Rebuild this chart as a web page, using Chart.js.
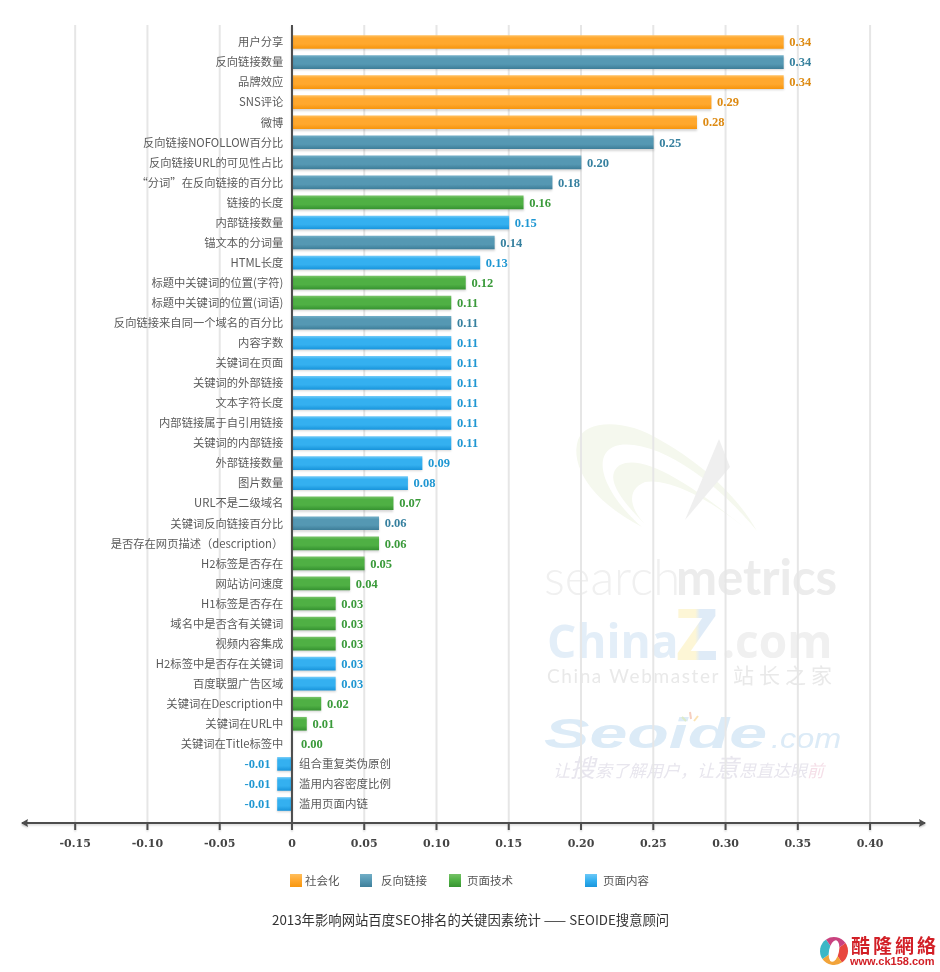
<!DOCTYPE html>
<html>
<head>
<meta charset="utf-8">
<title>2013年影响网站百度SEO排名的关键因素统计</title>
<script src="https://cdn.jsdelivr.net/npm/chart.js@4"></script>
<style>
  body { margin: 0; background: #fff; }
  canvas { display: block; }
</style>
</head>
<body>
<canvas id="factorChart" width="940" height="972"></canvas>
<script>
const categories = [
  '用户分享', '反向链接数量', '品牌效应', 'SNS评论', '微博', '反向链接NOFOLLOW百分比',
  '反向链接URL的可见性占比', '“分词”在反向链接的百分比', '链接的长度', '内部链接数量',
  '锚文本的分词量', 'HTML长度', '标题中关键词的位置(字符)', '标题中关键词的位置(词语)',
  '反向链接来自同一个域名的百分比', '内容字数', '关键词在页面', '关键词的外部链接',
  '文本字符长度', '内部链接属于自引用链接', '关键词的内部链接', '外部链接数量', '图片数量',
  'URL不是二级域名', '关键词反向链接百分比', '是否存在网页描述（description）', 'H2标签是否存在',
  '网站访问速度', 'H1标签是否存在', '域名中是否含有关键词', '视频内容集成',
  'H2标签中是否存在关键词', '百度联盟广告区域', '关键词在Description中', '关键词在URL中',
  '关键词在Title标签中', '组合重复类伪原创', '滥用内容密度比例', '滥用页面内链'
];
const values = [
  0.34, 0.34, 0.34, 0.29, 0.28, 0.25, 0.20, 0.18, 0.16, 0.15,
  0.14, 0.13, 0.12, 0.11, 0.11, 0.11, 0.11, 0.11, 0.11, 0.11,
  0.11, 0.09, 0.08, 0.07, 0.06, 0.06, 0.05, 0.04, 0.03, 0.03,
  0.03, 0.03, 0.03, 0.02, 0.01, 0.00, -0.01, -0.01, -0.01
];
// index into seriesNames for each category
const groups = [
  0, 1, 0, 0, 0, 1, 1, 1, 2, 3,
  1, 3, 2, 2, 1, 3, 3, 3, 3, 3,
  3, 3, 3, 2, 1, 2, 2, 2, 2, 2,
  2, 3, 3, 2, 2, 2, 3, 3, 3
];
const seriesNames = ['社会化', '反向链接', '页面技术', '页面内容'];
const xTicks = [-0.15, -0.10, -0.05, 0, 0.05, 0.10, 0.15, 0.20, 0.25, 0.30, 0.35, 0.40];
const xTickLabels = ['-0.15', '-0.10', '-0.05', '0', '0.05', '0.10', '0.15', '0.20', '0.25', '0.30', '0.35', '0.40'];

const barColors = [
  ['#ffbe5c', '#ffa82e', '#f7960f'],
  ['#72aec6', '#5598b3', '#3f7f9a'],
  ['#76c267', '#4fb044', '#379432'],
  ['#6cc8f7', '#34b0f0', '#1a96dc']
];
const valueColors = ['#dd8a12', '#36809f', '#3a9a3a', '#1f97d2'];

const serifFont = '"Liberation Serif", serif';
const cjkFont = '"Noto Sans CJK SC", sans-serif';

function barGradient(c, g) {
  const mid = c.dataIndex === undefined ? NaN : c.chart.scales.y.getPixelForValue(c.dataIndex);
  if (!isFinite(mid)) return barColors[g][1];
  const grad = c.chart.ctx.createLinearGradient(0, mid - 6.5, 0, mid + 6.5);
  grad.addColorStop(0, barColors[g][0]);
  grad.addColorStop(0.2, barColors[g][1]);
  grad.addColorStop(0.65, barColors[g][1]);
  grad.addColorStop(1, barColors[g][2]);
  return grad;
}

const watermark = {
  id: 'watermark',
  beforeDraw(chart) {
    const ctx = chart.ctx;
    ctx.save();
    ctx.fillStyle = '#fff';
    ctx.fillRect(0, 0, chart.width, chart.height);

    // swoosh and arrow
    const arcs = [
      [[642, 527], [590, 500], [570, 465], [578, 440], [585, 420], [625, 418], [660, 440], [705, 465], [740, 500], [757, 531], [720, 485], [660, 440], [620, 445], [590, 450], [600, 490], [642, 527]],
      [[648, 527], [615, 495], [605, 475], [620, 465], [640, 455], [680, 475], [745, 528], [705, 495], [665, 478], [645, 482], [625, 490], [630, 510], [648, 527]]
    ];
    ctx.fillStyle = '#f5f8ee';
    arcs.forEach(a => {
      ctx.beginPath();
      ctx.moveTo(a[0][0], a[0][1]);
      for (let i = 1; i + 2 < a.length; i += 3) {
        ctx.bezierCurveTo(a[i][0], a[i][1], a[i + 1][0], a[i + 1][1], a[i + 2][0], a[i + 2][1]);
      }
      ctx.closePath();
      ctx.fill();
    });
    ctx.fillStyle = '#efefef';
    ctx.beginPath();
    ctx.moveTo(719, 439);
    ctx.lineTo(730, 467);
    ctx.lineTo(685, 520);
    ctx.closePath();
    ctx.fill();

    ctx.textBaseline = 'alphabetic';
    ctx.textAlign = 'left';
    ctx.fillStyle = '#f0f0f0';
    ctx.font = '300 49px Lato, sans-serif';
    ctx.fillText('search', 544, 595);
    ctx.fillStyle = '#ececec';
    ctx.font = 'bold 49px Lato, sans-serif';
    ctx.fillText('metrics', 676, 595);

    ctx.fillStyle = '#e3eef8';
    ctx.font = 'bold 46px "Open Sans", sans-serif';
    ctx.fillText('China', 547, 658);
    ctx.fillStyle = '#f0f0f0';
    ctx.fillText('.com', 722, 658);
    const zFill = ctx.createLinearGradient(675, 0, 720, 0);
    zFill.addColorStop(0, '#fdf6d6');
    zFill.addColorStop(0.45, '#fdf6d6');
    zFill.addColorStop(0.55, '#dfebf7');
    zFill.addColorStop(1, '#dfebf7');
    ctx.fillStyle = zFill;
    ctx.font = 'bold 72px "Open Sans", sans-serif';
    ctx.fillText('Z', 676, 660);

    ctx.font = '19px Lato, sans-serif';
    ctx.letterSpacing = '1.6px';
    ctx.fillStyle = '#e9e9e9';
    ctx.fillText('China Webmaster', 547, 683);
    ctx.letterSpacing = '5px';
    ctx.font = '21px ' + cjkFont;
    ctx.fillText('站长之家', 733, 683);
    ctx.letterSpacing = '0px';

    ctx.fillStyle = '#dcebf7';
    ctx.save();
    ctx.translate(544, 748);
    ctx.scale(1.62, 1);
    ctx.font = 'italic bold 42px "Liberation Sans", sans-serif';
    ctx.fillText('Seoide', 0, 0);
    ctx.restore();
    ctx.save();
    ctx.translate(771, 748);
    ctx.scale(1.2, 1);
    ctx.font = 'italic 27px "Liberation Sans", sans-serif';
    ctx.fillText('.com', 0, 0);
    ctx.restore();
    [['#dcebc8', 682, 717, 686, 721], ['#f6cfc0', 690, 712, 691, 719], ['#fbe3b4', 698, 716, 694, 721]].forEach(d => {
      ctx.strokeStyle = d[0];
      ctx.lineWidth = 2;
      ctx.beginPath();
      ctx.moveTo(d[1], d[2]);
      ctx.lineTo(d[3], d[4]);
      ctx.stroke();
    });

    let sloganX = 553;
    Array.from('让搜索了解用户，让意思直达眼前').forEach(ch => {
      const size = (ch === '搜' || ch === '意') ? 25 : 17;
      ctx.fillStyle = ch === '前' ? '#f5dfe8' : '#e8e6ee';
      ctx.font = 'italic ' + size + 'px ' + cjkFont;
      ctx.fillText(ch, sloganX, 777);
      sloganX += size;
    });

    // grid lines go under the tick labels
    const x = chart.scales.x;
    ctx.lineWidth = 2;
    ctx.strokeStyle = '#e6e6e6';
    x.ticks.forEach(t => {
      if (t.value === 0) return;
      const px = x.getPixelForValue(t.value);
      ctx.beginPath();
      ctx.moveTo(px, 25);
      ctx.lineTo(px, 823);
      ctx.stroke();
    });
    ctx.restore();
  }
};

const shadowedBars = {
  id: 'shadowedBars',
  beforeDatasetsDraw(chart) {
    const ctx = chart.ctx;
    ctx.save();
    ctx.shadowColor = 'rgba(0,0,0,0.16)';
    ctx.shadowBlur = 2;
    ctx.shadowOffsetY = 1.5;
  },
  afterDatasetsDraw(chart) {
    chart.ctx.restore();
  }
};

// x axis sits below the bar rows, the zero line runs past them
const axisLines = {
  id: 'axisLines',
  afterDatasetsDraw(chart) {
    const ctx = chart.ctx;
    const x = chart.scales.x;
    const zero = x.getPixelForValue(0);
    ctx.save();
    ctx.strokeStyle = '#4d4d4d';
    ctx.fillStyle = '#4d4d4d';
    ctx.lineWidth = 2;
    ctx.beginPath();
    ctx.moveTo(zero, 25);
    ctx.lineTo(zero, 823);
    ctx.moveTo(x.left, 823);
    ctx.lineTo(x.right, 823);
    x.ticks.forEach(t => {
      const px = x.getPixelForValue(t.value);
      ctx.moveTo(px, 823);
      ctx.lineTo(px, 830);
    });
    ctx.stroke();
    [[x.left, 1], [x.right, -1]].forEach(([px, dir]) => {
      ctx.beginPath();
      ctx.moveTo(px - dir, 823);
      ctx.lineTo(px + dir * 6, 819);
      ctx.lineTo(px + dir * 5, 823);
      ctx.lineTo(px + dir * 6, 827);
      ctx.closePath();
      ctx.fill();
    });
    ctx.restore();
  }
};

const barLabels = {
  id: 'barLabels',
  afterDraw(chart) {
    const ctx = chart.ctx;
    const x = chart.scales.x;
    const y = chart.scales.y;
    const zero = x.getPixelForValue(0);
    ctx.save();
    ctx.textBaseline = 'middle';
    values.forEach((v, i) => {
      const py = y.getPixelForValue(i);
      const px = x.getPixelForValue(v);
      ctx.fillStyle = valueColors[groups[i]];
      ctx.font = 'bold 12.5px ' + serifFont;
      ctx.textAlign = v < 0 ? 'right' : 'left';
      ctx.fillText(v.toFixed(2), v < 0 ? px - 7 : px + (v === 0 ? 9 : 6), py + 1);
      if (v < 0) {
        ctx.fillStyle = '#5a5a5a';
        ctx.font = '11.5px ' + cjkFont;
        ctx.textAlign = 'left';
        ctx.fillText(categories[i], zero + 7, py);
      }
    });
    ctx.restore();
  }
};

const extras = {
  id: 'extras',
  afterDraw(chart) {
    const ctx = chart.ctx;
    ctx.save();
    ctx.textBaseline = 'middle';
    ctx.textAlign = 'left';

    // legend
    const swatchX = [290, 360, 449, 585];
    const textX = [305, 381, 467, 603];
    seriesNames.forEach((name, g) => {
      const grad = ctx.createLinearGradient(0, 874, 0, 887);
      grad.addColorStop(0, barColors[g][0]);
      grad.addColorStop(0.5, barColors[g][1]);
      grad.addColorStop(1, barColors[g][2]);
      ctx.fillStyle = grad;
      ctx.fillRect(swatchX[g], 874, 12, 13);
      ctx.fillStyle = '#555';
      ctx.font = '11.5px ' + cjkFont;
      ctx.fillText(name, textX[g], 881);
    });

    // caption
    ctx.fillStyle = '#333';
    ctx.font = '13.35px ' + cjkFont;
    ctx.fillText('2013年影响网站百度SEO排名的关键因素统计 —— SEOIDE搜意顾问', 272, 920);

    // site stamp
    const ring = ['#e8473f', '#f2a43a', '#3cb7c6', '#c9437f'];
    ring.forEach((c, i) => {
      ctx.fillStyle = c;
      ctx.beginPath();
      ctx.moveTo(834, 951);
      ctx.arc(834, 951, 14, i * Math.PI / 2 - 0.6, (i + 1) * Math.PI / 2 - 0.6);
      ctx.closePath();
      ctx.fill();
    });
    ctx.fillStyle = '#fff';
    ctx.beginPath();
    ctx.ellipse(834, 951, 5, 11, 0.2, 0, Math.PI * 2);
    ctx.fill();
    ctx.fillStyle = '#d21f26';
    ctx.font = 'bold 19px "Noto Sans CJK TC", sans-serif';
    ctx.letterSpacing = '3px';
    ctx.fillText('酷隆網絡', 851, 946);
    ctx.letterSpacing = '0px';
    ctx.font = 'bold 11px "Liberation Sans", sans-serif';
    ctx.fillText('www.ck158.com', 850, 962);
    ctx.restore();
  }
};

const ctx = document.getElementById('factorChart').getContext('2d');
const factorChart = new Chart(ctx, {
  type: 'bar',
  data: {
    labels: categories,
    datasets: seriesNames.map((name, g) => ({
      label: name,
      data: categories.map((_, i) => (groups[i] === g ? values[i] : null)),
      backgroundColor: c => barGradient(c, g),
      borderWidth: 0,
      barThickness: 13
    }))
  },
  options: {
    indexAxis: 'y',
    responsive: false,
    devicePixelRatio: 1,
    animation: false,
    layout: { padding: { left: 22, right: 15, top: 32, bottom: 0 } },
    plugins: {
      legend: { display: false },
      title: { display: false },
      tooltip: { enabled: false }
    },
    scales: {
      x: {
        type: 'linear',
        stacked: true,
        min: -0.1868,
        max: 0.438,
        grid: { display: false, drawTicks: false },
        border: { display: false },
        afterBuildTicks: scale => { scale.ticks = xTicks.map(value => ({ value })); },
        afterFit: scale => { scale.height = 158; },
        ticks: {
          padding: 24,
          autoSkip: false,
          maxRotation: 0,
          color: '#444',
          font: { family: '"DejaVu Serif", serif', size: 11, weight: 'bold' },
          callback: value => xTickLabels[xTicks.indexOf(value)]
        }
      },
      y: {
        stacked: true,
        // labels end a little left of the zero line
        position: { x: -0.006 },
        grid: { display: false, drawTicks: false },
        border: { display: false },
        ticks: {
          autoSkip: false,
          color: '#5a5a5a',
          font: { family: cjkFont, size: 11.3 },
          callback: (value, i) => (values[i] < 0 ? '' : categories[i])
        }
      }
    }
  },
  plugins: [watermark, axisLines, shadowedBars, barLabels, extras]
});
</script>
</body>
</html>
